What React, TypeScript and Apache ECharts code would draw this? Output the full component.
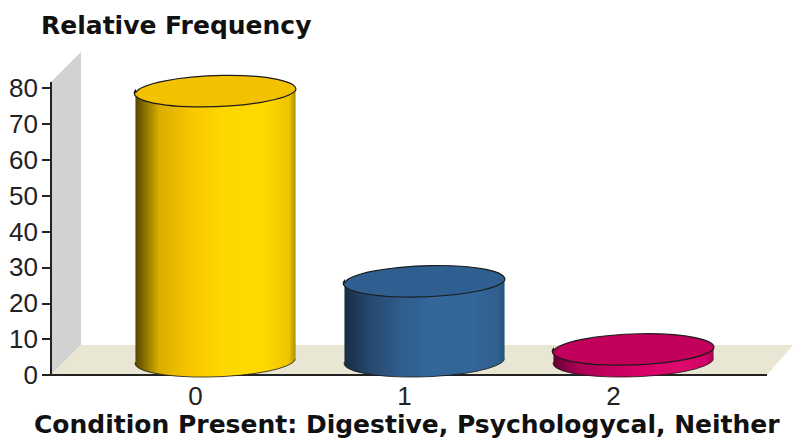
import React, { useEffect, useRef } from "react";
import * as echarts from "echarts";

const categories = ["0", "1", "2"];
const frequencies = [75, 22, 3];
const yTicks = { min: 0, max: 80, interval: 10 };
const sideStops = [
  ["#544400", "#d9ae00", "#fbc600", "#ffd700", "#ffd900", "#eec400", "#a89000"],
  ["#182c44", "#25476c", "#2f5c8b", "#336699", "#336699", "#2f5f8f", "#28527c"],
  ["#660032", "#a80054", "#c4005f", "#d80068", "#e00a6d", "#d00066", "#a00050"],
];
const topColors = ["#f2c200", "#2f5f91", "#c2005c"];
const stopOffsets = [0, 0.15, 0.35, 0.55, 0.8, 0.96, 1];

const PLOT = { left: 91, right: 718, top: 88, bottom: 375 };
const WALL_X = 51;
const DEPTH = 30;
const FRONT_END = 767;
const FLOOR_END = 793;
const DEPTH_SHIFT_X = 20;
const DEPTH_SHIFT_Y = 15.5;

// Each bar is a cylinder standing midway into the floor's depth.
function renderCylinder(params: any, api: any) {
  const i = api.value(0);
  const base = api.coord([i, 0]);
  const top = api.coord([i, api.value(1)]);
  const rx = api.size([1, 0])[0] * 0.383;
  const ry = 16;
  const tilt = 2.5;
  const cx = base[0] + DEPTH_SHIFT_X;
  const yBase = base[1] - DEPTH_SHIFT_Y;
  const yTop = top[1] - DEPTH_SHIFT_Y;
  const lx = cx - rx;
  const rxEnd = cx + rx;

  const arc = (sweep: number, x: number, y: number) =>
    `A ${rx} ${ry} -1.8 0 ${sweep} ${x} ${y}`;
  const body =
    `M ${lx} ${yTop + tilt} L ${lx} ${yBase + tilt} ` +
    arc(0, rxEnd, yBase - tilt) +
    ` L ${rxEnd} ${yTop - tilt} ` +
    arc(1, lx, yTop + tilt) +
    " Z";
  const lowerRim = `M ${lx} ${yBase + tilt} ` + arc(0, rxEnd, yBase - tilt);
  const cap =
    `M ${lx} ${yTop + tilt} ` + arc(1, rxEnd, yTop - tilt) + " " + arc(1, lx, yTop + tilt) + " Z";

  return {
    type: "group",
    children: [
      {
        type: "path",
        shape: { pathData: body },
        style: {
          fill: new echarts.graphic.LinearGradient(
            0,
            0,
            1,
            0,
            sideStops[i].map((color, k) => ({ offset: stopOffsets[k], color }))
          ),
        },
      },
      {
        type: "path",
        shape: { pathData: lowerRim },
        style: { fill: "none", stroke: "#1a1a1a", lineWidth: 0.8 },
      },
      {
        type: "path",
        shape: { pathData: cap },
        style: { fill: topColors[i], stroke: "#1c1c1c", lineWidth: 1.2 },
      },
    ],
  };
}

export default function App() {
  const ref = useRef<HTMLDivElement>(null);

  useEffect(() => {
    document.body.style.margin = "0";
    const chart = echarts.init(ref.current!, null, { renderer: "svg" });
    chart.setOption({
      animation: false,
      backgroundColor: "#ffffff",
      title: [
        {
          text: "Relative Frequency",
          left: 36,
          top: 8,
          textStyle: { fontFamily: "DejaVu Sans", fontWeight: "bold", fontSize: 25, color: "#111" },
        },
        {
          text: "Condition Present: Digestive, Psychologycal, Neither",
          left: 29,
          top: 407,
          textStyle: { fontFamily: "DejaVu Sans", fontWeight: "bold", fontSize: 25, color: "#111" },
        },
      ],
      grid: {
        left: PLOT.left,
        top: PLOT.top,
        width: PLOT.right - PLOT.left,
        height: PLOT.bottom - PLOT.top,
      },
      xAxis: {
        type: "category",
        data: categories,
        axisLine: { show: false },
        axisTick: { show: false },
        axisLabel: {
          margin: 8,
          fontFamily: "Liberation Sans",
          fontSize: 26,
          color: "#222",
        },
      },
      yAxis: {
        type: "value",
        ...yTicks,
        offset: PLOT.left - WALL_X,
        splitLine: { show: false },
        axisLine: { show: true, lineStyle: { color: "#222", width: 2 } },
        axisTick: { show: true, length: 9, lineStyle: { color: "#222", width: 2 } },
        axisLabel: {
          margin: 13,
          fontFamily: "Liberation Sans",
          fontSize: 26,
          color: "#222",
        },
      },
      graphic: {
        elements: [
          {
            type: "polygon",
            z: 0,
            shape: {
              points: [
                [WALL_X, PLOT.top - 6],
                [WALL_X + DEPTH, PLOT.top - 6 - DEPTH],
                [WALL_X + DEPTH, PLOT.bottom - DEPTH],
                [WALL_X, PLOT.bottom],
              ],
            },
            style: { fill: "#d2d2d2" },
          },
          {
            type: "polygon",
            z: 0,
            shape: {
              points: [
                [WALL_X, PLOT.bottom],
                [WALL_X + DEPTH, PLOT.bottom - DEPTH],
                [FLOOR_END, PLOT.bottom - DEPTH],
                [FRONT_END, PLOT.bottom],
              ],
            },
            style: { fill: "#e9e6d4" },
          },
          {
            type: "line",
            z: 1,
            shape: { x1: WALL_X - 1, y1: PLOT.bottom, x2: FRONT_END, y2: PLOT.bottom },
            style: { stroke: "#222", lineWidth: 2 },
          },
          {
            type: "line",
            z: 1,
            shape: { x1: WALL_X, y1: PLOT.top - 6, x2: WALL_X, y2: PLOT.top },
            style: { stroke: "#222", lineWidth: 2 },
          },
        ],
      },
      series: [
        {
          type: "custom",
          clip: false,
          z: 5,
          renderItem: renderCylinder,
          encode: { x: 0, y: 1 },
          data: frequencies.map((v, i) => [i, v]),
        },
      ],
    });
    return () => chart.dispose();
  }, []);

  return <div ref={ref} style={{ width: 793, height: 442 }} />;
}
